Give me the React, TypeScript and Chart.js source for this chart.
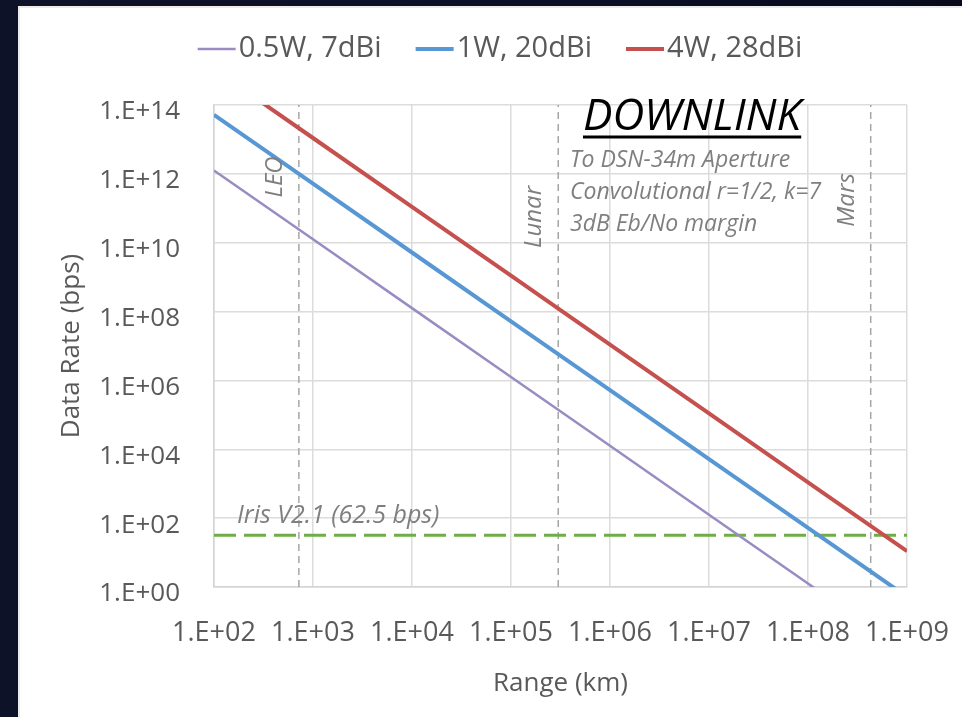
import React, { useEffect, useRef } from "react";
import { Chart, registerables } from "chart.js";

Chart.register(...registerables);

// ---- data ----
const rangeKm = [1e2, 1e3, 1e4, 1e5, 1e6, 1e7, 1e8, 1e9];
const rateLow = [1.26e12, 1.26e10, 1.26e8, 1.26e6, 1.26e4, 1.26e2, 1.26, 0.0126];
const rateMid = [5.2e13, 5.2e11, 5.2e9, 5.2e7, 5.2e5, 5.2e3, 52, 0.52];
const rateHigh = [1.1e15, 1.1e13, 1.1e11, 1.1e9, 1.1e7, 1.1e5, 1.1e3, 11];
const seriesNames = ["0.5W, 7dBi", "1W, 20dBi", "4W, 28dBi"];
const seriesColors = ["#9a8cc2", "#5797d3", "#c5504d"];
const seriesWidths = [2.5, 4, 4];

const xTickValues = [1e2, 1e3, 1e4, 1e5, 1e6, 1e7, 1e8, 1e9];
const yTickValues = [1, 1e2, 1e4, 1e6, 1e8, 1e10, 1e12, 1e14];

const markerNames = ["LEO", "Lunar", "Mars"];
const markerRangeKm = [720, 3.0e5, 4.3e8];
const markerLabelY = [171, 211, 194];

const irisRate = 32;
const irisLabel = "Iris V2.1 (62.5 bps)";
const headline = "DOWNLINK";
const noteLines = ["To DSN-34m Aperture", "Convolutional r=1/2, k=7", "3dB Eb/No margin"];

const xTitle = "Range (km)";
const yTitle = "Data Rate (bps)";

const FONT = '"Open Sans", "Liberation Sans", sans-serif';
const TEXT = "#595959";
const NOTE = "#7f7f7f";

const fmtExp = (v: number) => {
  const e = Math.round(Math.log10(v));
  return "1.E+" + String(e).padStart(2, "0");
};

const legendPlugin = {
  id: "customLegend",
  afterDraw(chart: any) {
    const ctx = chart.ctx as CanvasRenderingContext2D;
    ctx.save();
    ctx.font = `29px ${FONT}`;
    const lineW = 38, gapText = 3, gapItem = 34;
    const widths = seriesNames.map((n) => ctx.measureText(n).width);
    const total =
      widths.reduce((a, w) => a + lineW + gapText + w, 0) + gapItem * (seriesNames.length - 1);
    let x = 482 - total / 2;
    const y = 43;
    seriesNames.forEach((n, i) => {
      ctx.strokeStyle = seriesColors[i];
      ctx.lineWidth = seriesWidths[i];
      ctx.beginPath();
      ctx.moveTo(x, y);
      ctx.lineTo(x + lineW, y);
      ctx.stroke();
      ctx.fillStyle = TEXT;
      ctx.textBaseline = "middle";
      ctx.textAlign = "left";
      ctx.fillText(n, x + lineW + gapText, y);
      x += lineW + gapText + widths[i] + gapItem;
    });
    ctx.restore();
  },
};

const notesPlugin = {
  id: "notes",
  afterDatasetsDraw(chart: any) {
    const ctx = chart.ctx as CanvasRenderingContext2D;
    const xs = chart.scales.x;
    ctx.save();
    // headline
    ctx.font = `italic 44px ${FONT}`;
    ctx.fillStyle = "#000";
    ctx.textAlign = "left";
    ctx.textBaseline = "alphabetic";
    ctx.fillText(headline, 565, 124);
    const hw = ctx.measureText(headline).width;
    ctx.strokeStyle = "#000";
    ctx.lineWidth = 3;
    ctx.beginPath();
    ctx.moveTo(565, 131);
    ctx.lineTo(565 + hw, 131);
    ctx.stroke();
    // notes
    ctx.font = `italic 23px ${FONT}`;
    ctx.fillStyle = NOTE;
    noteLines.forEach((t, i) => ctx.fillText(t, 552, 161 + i * 32));
    // iris
    ctx.font = `italic 25px ${FONT}`;
    ctx.fillText(irisLabel, 219, 517);
    // marker labels
    ctx.font = `italic 24px ${FONT}`;
    markerNames.forEach((n, i) => {
      const px = xs.getPixelForValue(markerRangeKm[i]) - 17;
      ctx.save();
      ctx.translate(px, markerLabelY[i]);
      ctx.rotate(-Math.PI / 2);
      ctx.textAlign = "center";
      ctx.textBaseline = "alphabetic";
      ctx.fillText(n, 0, 0);
      ctx.restore();
    });
    ctx.restore();
  },
};

export default function App() {
  const ref = useRef<HTMLCanvasElement>(null);
  useEffect(() => {
    document.body.style.margin = "0";
    const series = [rateLow, rateMid, rateHigh].map((vals, i) => ({
      label: seriesNames[i],
      data: rangeKm.map((x, j) => ({ x, y: vals[j] })),
      borderColor: seriesColors[i],
      backgroundColor: seriesColors[i],
      borderWidth: seriesWidths[i],
      pointRadius: 0,
      tension: 0,
      clip: 0,
    }));
    const iris = {
      label: irisLabel,
      data: [
        { x: xTickValues[0], y: irisRate },
        { x: xTickValues[xTickValues.length - 1], y: irisRate },
      ],
      borderColor: "#70ad47",
      borderWidth: 3,
      borderDash: [22, 8],
      pointRadius: 0,
      clip: 0,
    };
    const markers = markerNames.map((n, i) => ({
      label: n,
      data: [
        { x: markerRangeKm[i], y: yTickValues[0] },
        { x: markerRangeKm[i], y: yTickValues[yTickValues.length - 1] },
      ],
      borderColor: "#a6a6a6",
      borderWidth: 1.5,
      borderDash: [7, 5],
      pointRadius: 0,
      clip: 0,
    }));
    const chart = new Chart(ref.current!, {
      type: "line",
      data: { datasets: [...series, iris, ...markers] as any },
      options: {
        responsive: false,
        animation: false,
        layout: { padding: { top: 99, right: 55, left: 0, bottom: 0 } },
        plugins: {
          legend: { display: false },
          tooltip: { enabled: false },
        },
        scales: {
          x: {
            type: "logarithmic",
            min: 1e2,
            max: 1e9,
            afterBuildTicks: (s: any) => {
              s.ticks = xTickValues.map((v) => ({ value: v }));
            },
            afterFit: (s: any) => {
              s.height = 130;
              s.paddingLeft = 0;
              s.paddingRight = 0;
            },
            ticks: {
              callback: (v: any) => fmtExp(Number(v)),
              autoSkip: false,
              maxRotation: 0,
              minRotation: 0,
              padding: 30,
              color: TEXT,
              font: { family: FONT, size: 27 },
            },
            grid: { color: "#dcdcdc", lineWidth: 1.5, drawTicks: false },
            border: { display: true, color: "#d4d4d4", width: 1.5 },
            title: {
              display: true,
              text: xTitle,
              color: TEXT,
              font: { family: FONT, size: 26 },
              padding: { top: 0, bottom: 18 },
            },
          },
          y: {
            type: "logarithmic",
            min: 1,
            max: 1e14,
            afterBuildTicks: (s: any) => {
              s.ticks = yTickValues.map((v) => ({ value: v }));
            },
            afterFit: (s: any) => {
              s.width = 196;
              s.paddingTop = 0;
              s.paddingBottom = 0;
            },
            ticks: {
              callback: (v: any) => fmtExp(Number(v)),
              autoSkip: false,
              padding: 34,
              labelOffset: 7,
              color: TEXT,
              font: { family: FONT, size: 26 },
            },
            grid: { color: "#dcdcdc", lineWidth: 1.5, drawTicks: false },
            border: { display: true, color: "#d4d4d4", width: 1.5 },
            title: {
              display: true,
              text: yTitle,
              color: TEXT,
              font: { family: FONT, size: 26 },
              padding: { top: 38, bottom: 0 },
            },
          },
        },
      },
      plugins: [legendPlugin, notesPlugin],
    } as any);
    return () => chart.destroy();
  }, []);
  return (
    <div
      style={{
        position: "fixed",
        inset: 0,
        background: "linear-gradient(90deg, #0d1229 0%, #0b0f25 60%, #080a1c 100%)",
        overflow: "hidden",
      }}
    >
      <div
        style={{
          position: "absolute",
          left: 18,
          top: 6,
          width: 944,
          height: 711,
          background: "#ffffff",
          boxShadow: "inset 2px 2px 0 #ececec",
        }}
      >
        <canvas ref={ref} width={944} height={711} style={{ display: "block" }} />
      </div>
    </div>
  );
}
